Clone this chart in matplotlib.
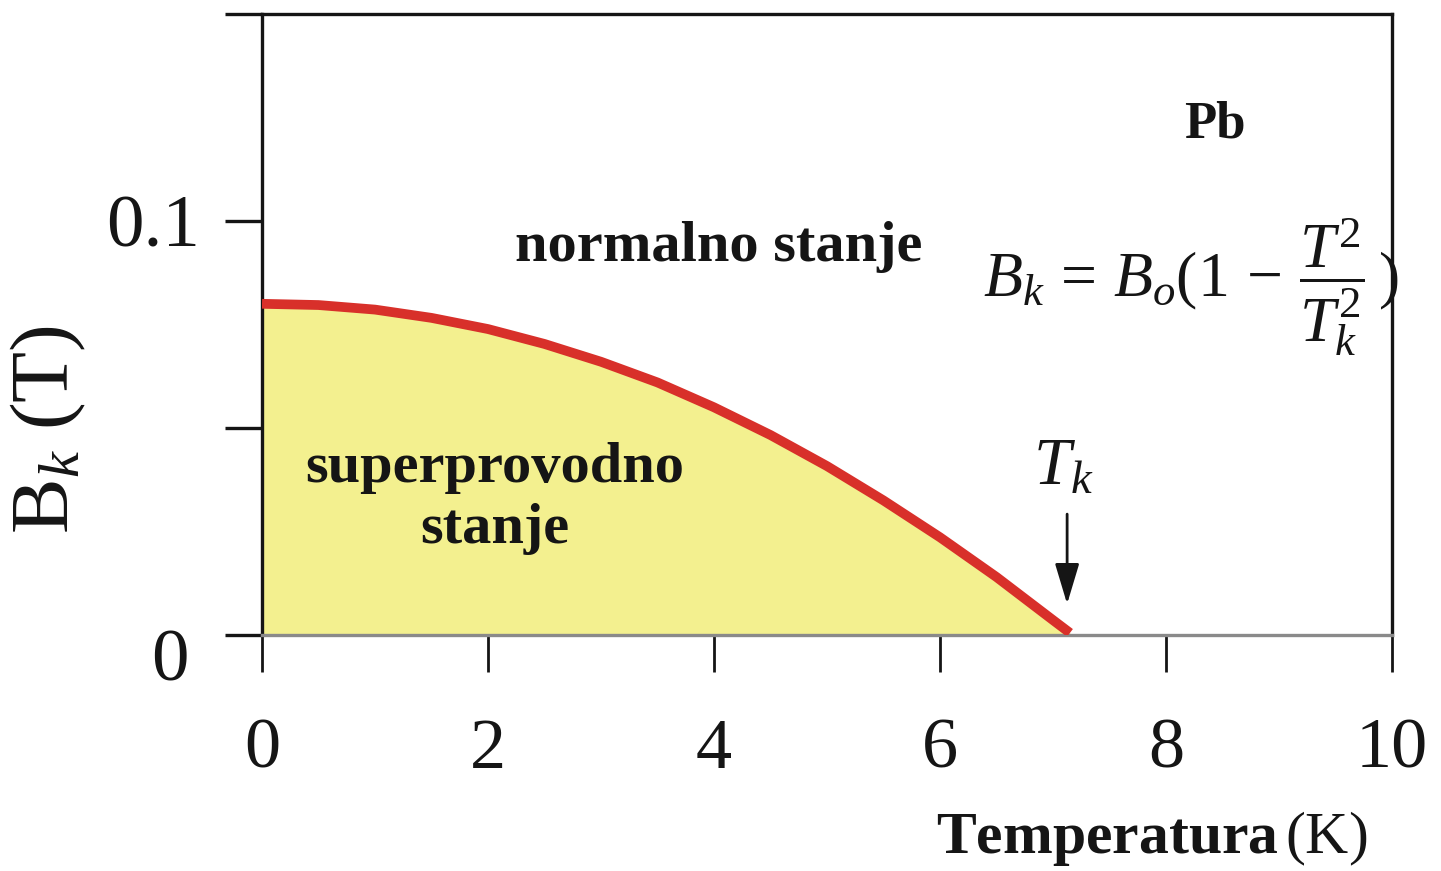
import matplotlib
matplotlib.use("Agg")
import matplotlib.pyplot as plt
from matplotlib.transforms import ScaledTranslation

plt.rcParams['font.family'] = ['Liberation Serif', 'DejaVu Serif']
plt.rcParams['mathtext.fontset'] = 'custom'
plt.rcParams['mathtext.rm'] = 'Liberation Serif'
plt.rcParams['mathtext.it'] = 'Liberation Serif:italic'
plt.rcParams['mathtext.bf'] = 'Liberation Serif:bold'

# Data
temperature = [0.0, 0.5, 1.0, 1.5, 2.0, 2.5, 3.0, 3.5, 4.0, 4.5, 5.0, 5.5, 6.0, 6.5, 7.0, 7.15]
critical_field = [0.0800, 0.0797, 0.0786, 0.0766, 0.0739, 0.0703, 0.0660, 0.0610,
                  0.0550, 0.0483, 0.0408, 0.0325, 0.0236, 0.0140, 0.0036, 0.0005]
x_ticks = [0, 2, 4, 6, 8, 10]
x_ticklabels = ['0', '2', '4', '6', '8', '10']
y_ticks = [0, 0.05, 0.1, 0.15]
y_ticklabels = ['0', '', '0.1', '']

INK = '#151515'
GRAY = '#8a8a8a'
RED = '#d8302a'
YELLOW = '#f3f08f'

fig = plt.figure(figsize=(14.41, 8.71), dpi=100)
ax = fig.add_axes([262/1441, 1-635/871, (1392-262)/1441, (635-14)/871])
ax.set_xlim(0, 10)
ax.set_ylim(0, 0.15)

ax.fill_between(temperature, critical_field, 0, color=YELLOW, lw=0, zorder=1)
ax.plot(temperature, critical_field, color=RED, lw=7, solid_capstyle='butt', zorder=3)

for side in ['left', 'right', 'top']:
    ax.spines[side].set_color(INK)
    ax.spines[side].set_linewidth(2.4)
ax.spines['bottom'].set_color(GRAY)
ax.spines['bottom'].set_linewidth(2.4)

ax.set_xticks(x_ticks)
ax.set_xticklabels(x_ticklabels)
ax.set_yticks(y_ticks)
ax.set_yticklabels(y_ticklabels)
ax.tick_params(axis='x', direction='out', length=26.5, width=2.0, color=INK,
               labelsize=52, pad=33, labelcolor=INK)
ax.tick_params(axis='y', direction='out', length=26.5, width=2.4, color=INK,
               labelsize=54, pad=18, labelcolor=INK)
ax.xaxis.get_ticklines()[2].set_color(GRAY)
ax.yaxis.get_ticklines()[0].set_color(GRAY)
# shift the "0" y label down a bit as in the reference
lab0 = ax.yaxis.get_ticklabels()[0]
lab0.set_transform(lab0.get_transform() + ScaledTranslation(-0.12, -0.2, fig.dpi_scale_trans))

ax.set_xlabel(r'$\mathbf{Temperatura}\,\mathrm{(K)}$', fontsize=43, color=INK)
ax.xaxis.label.set_va('center')
ax.xaxis.set_label_coords((1152-262)/1130, (635-838)/621)
ax.set_ylabel(r'$\mathrm{B}_{k}\ \mathrm{(T)}$', fontsize=60, color=INK)
ax.yaxis.label.set_va('center')
ax.yaxis.set_label_coords((48-262)/1130, (635-430)/621)

ax.text(8.43, 0.1232, 'Pb', fontsize=38, fontweight='bold', ha='center', va='center', color=INK)
ax.text(4.04, 0.0937, 'normalno stanje', fontsize=42, fontweight='bold', ha='center', va='center', color=INK)
ax.text(2.06, 0.0330, 'superprovodno\nstanje', fontsize=42, fontweight='bold', ha='center', va='center',
        linespacing=1.22, color=INK)
ax.text(8.22, 0.0840, r'$B_k\, =\, B_o(1\, -\, \dfrac{T^2}{T_k^2}\,)$', fontsize=46,
        ha='center', va='center', color=INK)
ax.text(7.09, 0.0404, r'$T_k$', fontsize=48, ha='center', va='center', color=INK)
ax.annotate('', xy=(7.125, 0.0075), xytext=(7.125, 0.0292),
            arrowprops=dict(arrowstyle='-|>,head_length=1.0,head_width=0.3', color=INK, lw=2,
                            mutation_scale=25, shrinkA=0, shrinkB=0))

fig.savefig('out.png', dpi=100)
